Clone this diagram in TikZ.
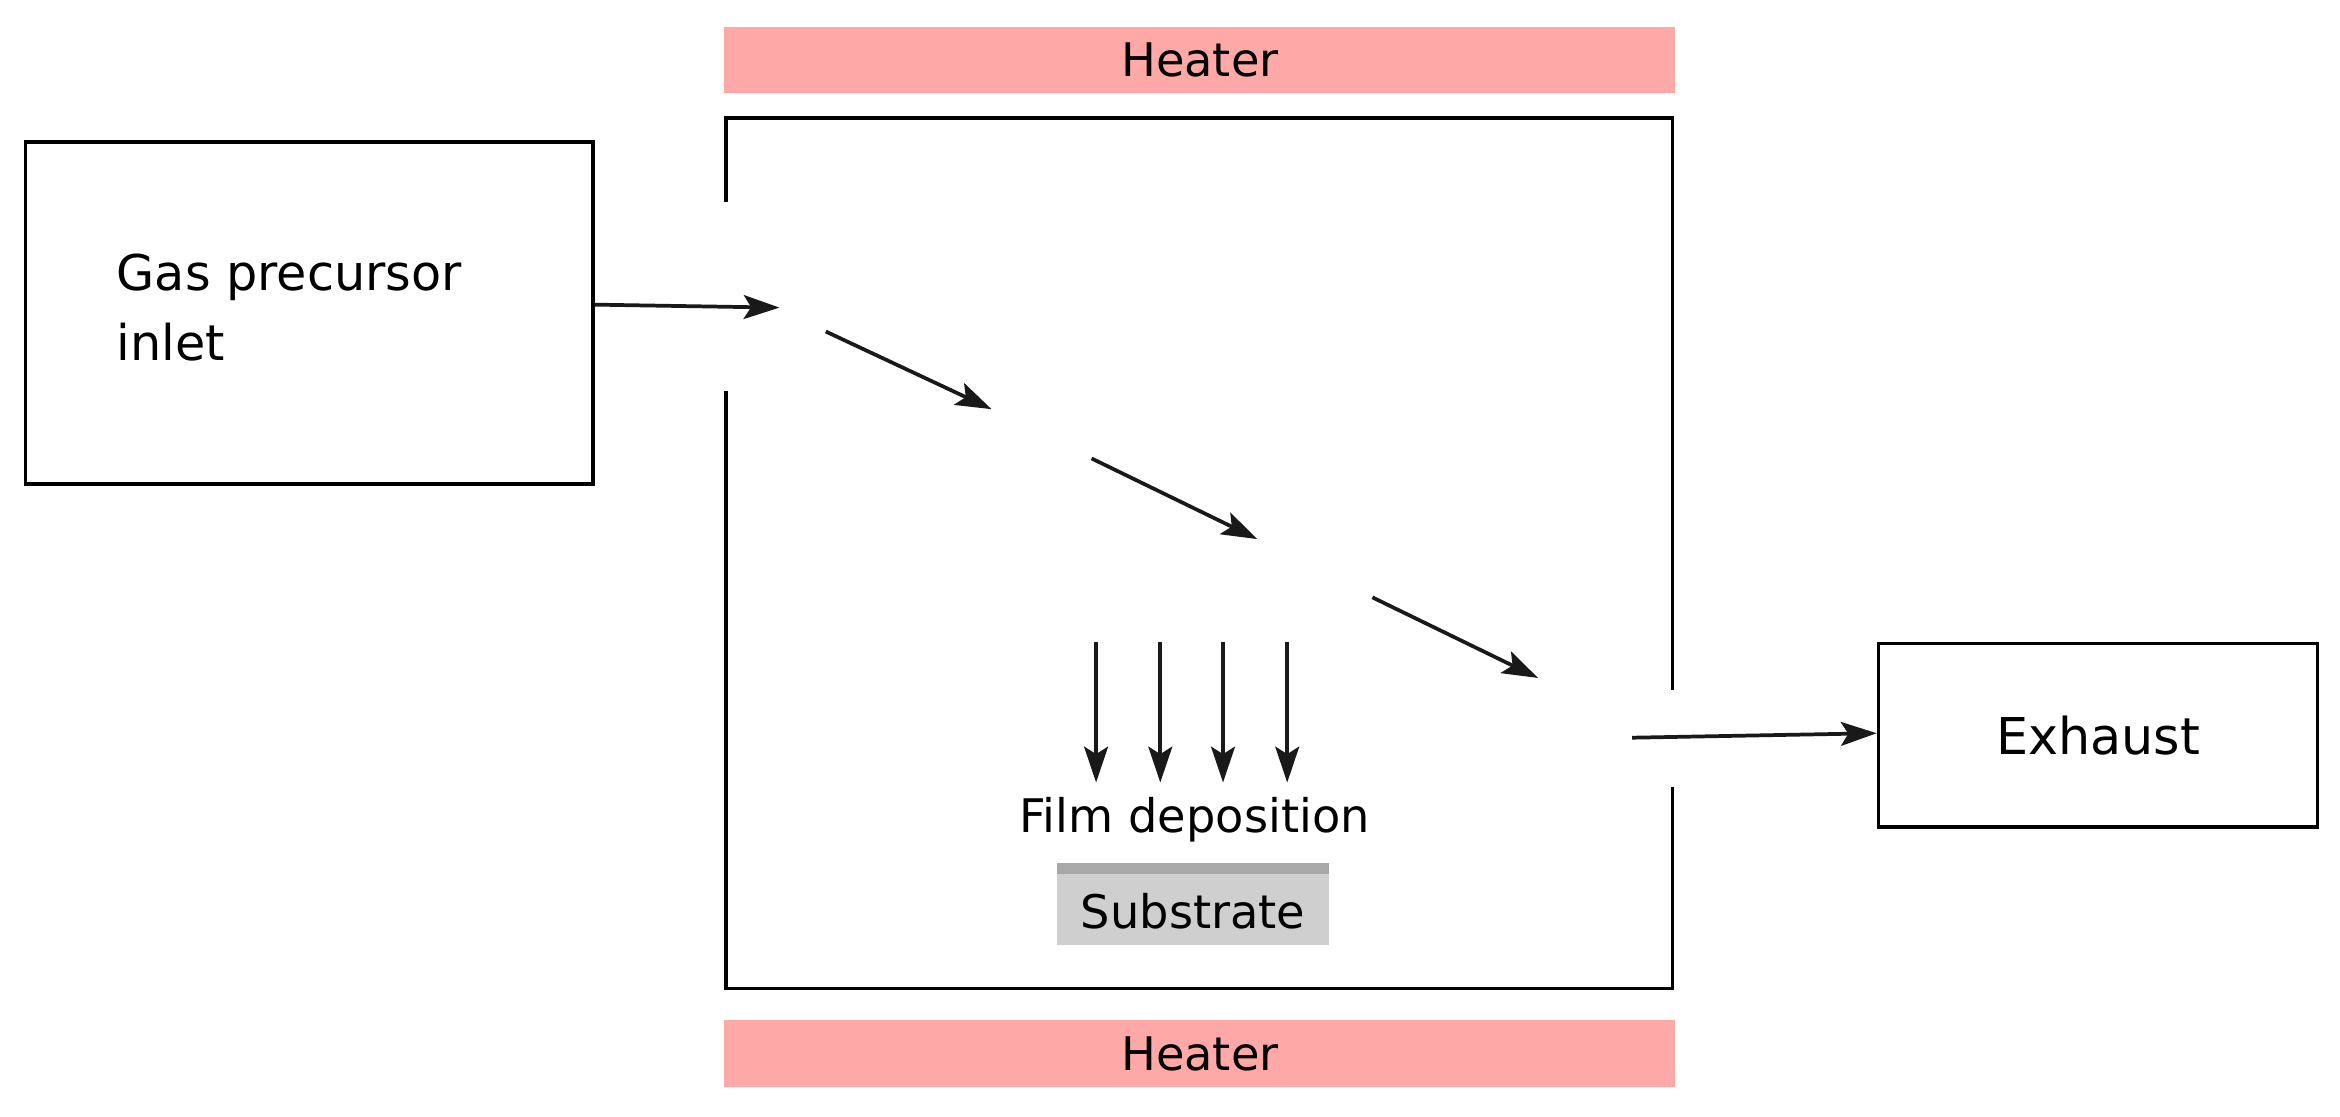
\documentclass[tikz,border=0pt]{standalone}
\usepackage{fontspec}
\setmainfont{DejaVu Sans}
\usetikzlibrary{arrows.meta}
\definecolor{heat}{HTML}{FFA8A8}
\definecolor{subs}{HTML}{CFCFCF}
\definecolor{subtop}{HTML}{A8A8A8}
\begin{document}
\begin{tikzpicture}[x=1pt,y=-1pt,
  wall/.style={line width=2.5pt,black},
  arr/.style={line width=2.5pt,draw=black!90,-{Stealth[length=24pt,width=16pt,inset=5pt]}},
  lbl/.style={font=\fontsize{31}{37}\selectfont,inner sep=0pt}]
\useasboundingbox (0,0) rectangle (1567,748);
\node[fill=heat,minimum width=637pt,minimum height=44pt,inner sep=0pt,lbl] (ht) at (803.5,40) {Heater};
\node[fill=heat,minimum width=637pt,minimum height=45pt,inner sep=0pt,lbl] (hb) at (803.5,705.5) {Heater};
\draw[wall] (486,135) -- (486,79) -- (1120,79) -- (1120,462);
\draw[wall] (486,262) -- (486,662) -- (1120,662) -- (1120,527);
\node[draw,line width=2.5pt,minimum width=380pt,minimum height=229pt,inner sep=0pt] (gas) at (207,209.5) {};
\node[lbl,align=left,anchor=north west,font=\fontsize{33}{47}\selectfont] (gt) at (78,170) {Gas precursor\\inlet};
\coordinate (a0) at (522,206);
\draw[arr] (gas.east |- 0,204) -- (a0);
\coordinate (d1s) at (553,222); \coordinate (d1e) at (664,274);
\coordinate (d2s) at (731,307); \coordinate (d2e) at (842,361);
\coordinate (d3s) at (919,400); \coordinate (d3e) at (1030,454);
\draw[arr] (d1s) -- (d1e);
\draw[arr] (d2s) -- (d2e);
\draw[arr] (d3s) -- (d3e);
\foreach \x [count=\i] in {734,777,819,862}{
  \coordinate (v\i s) at (\x,430); \coordinate (v\i e) at (\x,524);
  \draw[arr] (v\i s) -- (v\i e);
}
\node[lbl] (film) at (800,549) {Film deposition};
\node[fill=subs,minimum width=182pt,minimum height=55pt,inner sep=0pt] (sub) at (799,605.5) {};
\fill[subtop] (708,578) rectangle (890,585);
\node[lbl] (subt) at (799,610) {Substrate};
\node[draw,line width=2.5pt,minimum width=294pt,minimum height=123pt,inner sep=0pt,lbl,font=\fontsize{34}{40}\selectfont] (ex) at (1405,492.5) {Exhaust};
\coordinate (e0) at (1093,494);
\draw[arr] (e0) -- (ex.west |- 0,491);
\end{tikzpicture}
\end{document}
